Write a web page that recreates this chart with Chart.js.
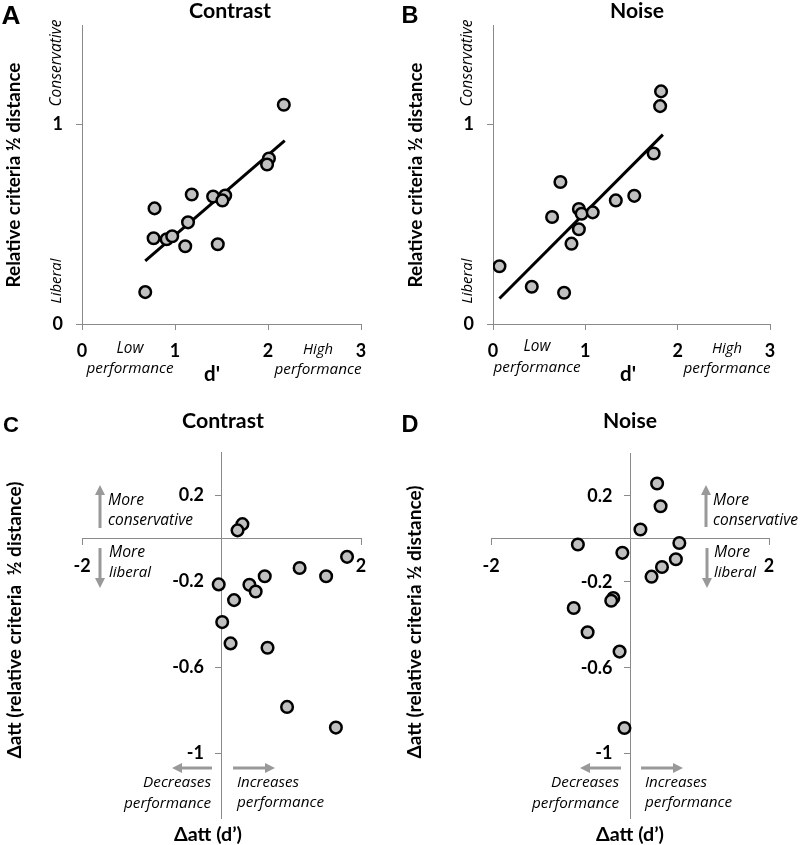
<!DOCTYPE html>
<html>
<head>
<meta charset="utf-8">
<script src="https://cdn.jsdelivr.net/npm/chart.js@4.4.0/dist/chart.umd.min.js"></script>
<style>
  body { margin: 0; background: #fff; width: 800px; height: 845px; position: relative; overflow: hidden; }
  canvas { position: absolute; }
</style>
</head>
<body>
<canvas id="chartA" width="400" height="400" style="left:0;top:0"></canvas>
<canvas id="chartB" width="400" height="400" style="left:400px;top:0"></canvas>
<canvas id="chartC" width="400" height="445" style="left:0;top:400px"></canvas>
<canvas id="chartD" width="400" height="445" style="left:400px;top:400px"></canvas>
<script>
// A: contrast, criteria vs d'
const contrastDprime   = [2.17, 2.01, 1.99, 1.18, 1.41, 1.54, 1.51, 0.78, 1.14, 0.77, 0.91, 0.97, 1.11, 1.46, 0.68];
const contrastCriteria = [1.10, 0.83, 0.80, 0.65, 0.64, 0.645, 0.62, 0.58, 0.51, 0.43, 0.425, 0.44, 0.39, 0.40, 0.16];
const contrastFitX = [0.68, 2.18];
const contrastFitY = [0.317, 0.92];

// B: noise
const noiseDprime   = [1.82, 1.81, 1.74, 0.73, 1.53, 1.33, 0.93, 0.96, 1.08, 0.64, 0.93, 0.85, 0.07, 0.42, 0.77];
const noiseCriteria = [1.167, 1.093, 0.855, 0.712, 0.643, 0.62, 0.577, 0.553, 0.56, 0.537, 0.475, 0.403, 0.29, 0.187, 0.157];
const noiseFitX = [0.07, 1.84];
const noiseFitY = [0.128, 0.95];

// C: contrast, attention effects
const contrastAttD    = [0.30, 0.23, 1.80, 1.12, 1.50, 0.62, -0.04, 0.40, 0.49, 0.18, 0.01, 0.13, 0.66, 0.94, 1.64];
const contrastAttCrit = [0.065, 0.036, -0.087, -0.139, -0.177, -0.177, -0.215, -0.217, -0.248, -0.288, -0.39, -0.489, -0.509, -0.784, -0.88];

// D: noise, attention effects
const noiseAttD    = [0.39, 0.44, 0.15, 0.71, -0.75, -0.11, 0.66, 0.46, 0.31, -0.24, -0.27, -0.81, -0.61, -0.15, -0.08];
const noiseAttCrit = [0.258, 0.152, 0.044, -0.019, -0.026, -0.065, -0.095, -0.131, -0.176, -0.275, -0.288, -0.322, -0.435, -0.525, -0.881];

// tick labels
const xTicksTop = [0, 1, 2, 3];
const yTicksTop = [0, 1];
const xTicksBottom = [-2, 2];
const yTicksBottom = [0.2, -0.2, -0.6, -1];

const gray = '#8a8a8a';
const arrowGray = '#999999';
const boldFam = 'Lato, "Open Sans", sans-serif';
const tickFont = { family: boldFam, weight: 'bold', size: 18 };

function fontFor(kind, size) {
  if (kind === 'i') return 'italic ' + size + 'px "Open Sans"';
  if (kind === 'big') return 'bold ' + size + 'px "Liberation Sans"';
  return 'bold ' + size + 'px ' + boldFam;
}

function pts(xs, ys) {
  return xs.map((x, i) => ({ x: x, y: ys[i] }));
}

function drawArrow(ctx, x1, y1, x2, y2) {
  const ang = Math.atan2(y2 - y1, x2 - x1);
  const head = 9;
  ctx.save();
  ctx.strokeStyle = arrowGray;
  ctx.fillStyle = arrowGray;
  ctx.lineWidth = 3;
  ctx.beginPath();
  ctx.moveTo(x1, y1);
  ctx.lineTo(x2 - Math.cos(ang) * head, y2 - Math.sin(ang) * head);
  ctx.stroke();
  ctx.translate(x2, y2);
  ctx.rotate(ang);
  ctx.beginPath();
  ctx.moveTo(0, 0);
  ctx.lineTo(-head - 1, -5);
  ctx.lineTo(-head - 1, 5);
  ctx.closePath();
  ctx.fill();
  ctx.restore();
}

// text is sized so it spans the width w measured on the original figure
function notes(texts, arrows) {
  return {
    id: 'notes',
    afterDraw(chart) {
      const ctx = chart.ctx;
      (arrows || []).forEach(a => drawArrow(ctx, a[0], a[1], a[2], a[3]));
      texts.forEach(t => {
        ctx.save();
        ctx.font = fontFor(t.kind, 20);
        const size = 20 * t.w / ctx.measureText(t.text).width;
        ctx.font = fontFor(t.kind, size.toFixed(2));
        ctx.fillStyle = '#000';
        ctx.textAlign = t.align || 'center';
        ctx.textBaseline = 'middle';
        ctx.translate(t.x, t.y);
        if (t.rot) ctx.rotate(-Math.PI / 2);
        ctx.fillText(t.text, 0, 0);
        ctx.restore();
      });
    }
  };
}

function setTicks(list) {
  return (scale) => { scale.ticks = list.map(v => ({ value: v })); };
}

function scatterSet(xs, ys) {
  return {
    data: pts(xs, ys),
    backgroundColor: '#c0c0c0',
    borderColor: '#000',
    borderWidth: 2.5,
    pointRadius: 5.8,
    order: 0
  };
}

function fitSet(xs, ys) {
  return {
    data: pts(xs, ys),
    showLine: true,
    borderColor: '#000',
    borderWidth: 3,
    pointRadius: 0,
    order: 1
  };
}

function topChart(id, xs, ys, fx, fy, pad, yWidth, texts) {
  return new Chart(document.getElementById(id), {
    type: 'scatter',
    data: { datasets: [scatterSet(xs, ys), fitSet(fx, fy)] },
    options: {
      responsive: false,
      animation: false,
      layout: { padding: pad },
      plugins: { legend: { display: false }, tooltip: { enabled: false } },
      scales: {
        x: {
          type: 'linear', min: 0, max: 3,
          afterBuildTicks: setTicks(xTicksTop),
          afterFit: (s) => { s.height = 60; },
          grid: { drawOnChartArea: false, tickLength: 6, color: gray },
          border: { color: gray },
          ticks: { font: tickFont, color: '#000', padding: 10, callback: (v) => String(v) }
        },
        y: {
          type: 'linear', min: 0, max: 1.5,
          afterBuildTicks: setTicks(yTicksTop),
          afterFit: (s) => { s.width = yWidth; },
          grid: { drawOnChartArea: false, tickLength: 6, color: gray },
          border: { color: gray },
          ticks: { font: tickFont, color: '#000', padding: 13, callback: (v) => String(v) }
        }
      }
    },
    plugins: [notes(texts)]
  });
}

function bottomChart(id, xs, ys, pad, texts, arrows) {
  return new Chart(document.getElementById(id), {
    type: 'scatter',
    data: { datasets: [scatterSet(xs, ys)] },
    options: {
      responsive: false,
      animation: false,
      layout: { padding: pad },
      plugins: { legend: { display: false }, tooltip: { enabled: false } },
      scales: {
        x: {
          type: 'linear', min: -2, max: 2,
          position: { y: 0 },
          afterBuildTicks: setTicks(xTicksBottom),
          grid: { drawOnChartArea: false, tickLength: 6, color: gray },
          border: { color: gray },
          ticks: { font: Object.assign({}, tickFont, { lineHeight: 2.4 }), color: '#000', padding: 0, callback: (v) => String(v) }
        },
        y: {
          type: 'linear', min: -1.3, max: 0.4,
          position: { x: 0 },
          afterBuildTicks: setTicks(yTicksBottom),
          grid: { drawOnChartArea: false, tickLength: 6, color: gray },
          border: { color: gray },
          // centred axes ignore ticks.padding, so trailing spaces keep the gap
          ticks: { font: tickFont, color: '#000', callback: (v) => String(v) + '    ' }
        }
      }
    },
    plugins: [notes(texts, arrows)]
  });
}

topChart('chartA', contrastDprime, contrastCriteria, contrastFitX, contrastFitY,
  { left: 0, right: 39, top: 25, bottom: 16 }, 82, [
    { text: 'A', x: 11, y: 17, w: 19, kind: 'big' },
    { text: 'Contrast', x: 230, y: 11, w: 82, kind: 'b' },
    { text: 'Relative criteria ½ distance', x: 14, y: 175, w: 225, kind: 'b', rot: true },
    { text: 'Conservative', x: 57, y: 63, w: 87, kind: 'i', rot: true },
    { text: 'Liberal', x: 57, y: 281, w: 45, kind: 'i', rot: true },
    { text: 'Low', x: 130, y: 349, w: 27, kind: 'i' },
    { text: 'performance', x: 130, y: 369, w: 87, kind: 'i' },
    { text: "d'", x: 212, y: 374, w: 16, kind: 'b' },
    { text: 'High', x: 318, y: 350, w: 30, kind: 'i' },
    { text: 'performance', x: 318, y: 370, w: 87, kind: 'i' }
  ]);

topChart('chartB', noiseDprime, noiseCriteria, noiseFitX, noiseFitY,
  { left: 0, right: 30, top: 25, bottom: 16 }, 93, [
    { text: 'B', x: 10, y: 17, w: 17, kind: 'big' },
    { text: 'Noise', x: 237, y: 11, w: 54, kind: 'b' },
    { text: 'Relative criteria ½ distance', x: 16, y: 175, w: 225, kind: 'b', rot: true },
    { text: 'Conservative', x: 68, y: 63, w: 87, kind: 'i', rot: true },
    { text: 'Liberal', x: 68, y: 281, w: 45, kind: 'i', rot: true },
    { text: 'Low', x: 137, y: 347, w: 27, kind: 'i' },
    { text: 'performance', x: 137, y: 368, w: 87, kind: 'i' },
    { text: "d'", x: 228, y: 374, w: 16, kind: 'b' },
    { text: 'High', x: 327, y: 349, w: 30, kind: 'i' },
    { text: 'performance', x: 327, y: 369, w: 87, kind: 'i' }
  ]);

bottomChart('chartC', contrastAttD, contrastAttCrit,
  { left: 82, right: 39, top: 52, bottom: 27 }, [
    { text: 'C', x: 11, y: 26, w: 16, kind: 'big' },
    { text: 'Contrast', x: 223, y: 21, w: 82, kind: 'b' },
    { text: 'Δatt (relative criteria  ½ distance)', x: 15, y: 220, w: 277, kind: 'b', rot: true },
    { text: 'More', x: 108, y: 101, w: 36, kind: 'i', align: 'left' },
    { text: 'conservative', x: 108, y: 121, w: 85, kind: 'i', align: 'left' },
    { text: 'More', x: 109, y: 153, w: 36, kind: 'i', align: 'left' },
    { text: 'liberal', x: 109, y: 173, w: 42, kind: 'i', align: 'left' },
    { text: 'Decreases', x: 211, y: 383, w: 68, kind: 'i', align: 'right' },
    { text: 'performance', x: 211, y: 404, w: 87, kind: 'i', align: 'right' },
    { text: 'Increases', x: 237, y: 383, w: 62, kind: 'i', align: 'left' },
    { text: 'performance', x: 237, y: 403, w: 87, kind: 'i', align: 'left' },
    { text: 'Δatt (d’)', x: 208, y: 435, w: 68, kind: 'b' }
  ], [
    [100, 128, 100, 85], [100, 148, 100, 188], [212, 368, 172, 368], [233, 368, 275, 368]
  ]);

bottomChart('chartD', noiseAttD, noiseAttCrit,
  { left: 91, right: 31, top: 53, bottom: 27 }, [
    { text: 'D', x: 10, y: 26, w: 17, kind: 'big' },
    { text: 'Noise', x: 230, y: 21, w: 54, kind: 'b' },
    { text: 'Δatt (relative criteria ½ distance)', x: 15, y: 222, w: 273, kind: 'b', rot: true },
    { text: 'More', x: 313, y: 101, w: 36, kind: 'i', align: 'left' },
    { text: 'conservative', x: 313, y: 121, w: 85, kind: 'i', align: 'left' },
    { text: 'More', x: 314, y: 153, w: 36, kind: 'i', align: 'left' },
    { text: 'liberal', x: 314, y: 173, w: 42, kind: 'i', align: 'left' },
    { text: 'Decreases', x: 219, y: 383, w: 68, kind: 'i', align: 'right' },
    { text: 'performance', x: 219, y: 404, w: 87, kind: 'i', align: 'right' },
    { text: 'Increases', x: 245, y: 383, w: 62, kind: 'i', align: 'left' },
    { text: 'performance', x: 245, y: 403, w: 87, kind: 'i', align: 'left' },
    { text: 'Δatt (d’)', x: 230, y: 435, w: 68, kind: 'b' }
  ], [
    [306, 127, 306, 85], [307, 148, 307, 188], [221, 368, 180, 368], [241, 368, 283, 368]
  ]);
</script>
</body>
</html>
